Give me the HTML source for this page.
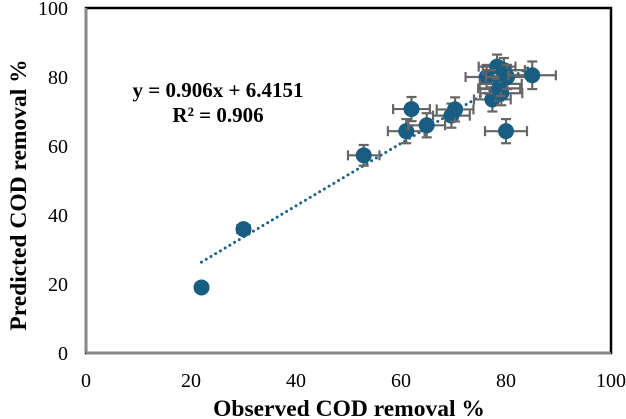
<!DOCTYPE html>
<html><head><meta charset="utf-8"><style>
body{margin:0;background:#fff}
svg{display:block;font-family:"Liberation Serif",serif}
</style></head><body>
<svg id="chart" width="626" height="419" viewBox="0 0 626 419">
<rect x="86" y="8" width="525" height="345" fill="#fff" stroke="#000" stroke-width="2.5"/>
<line x1="86" y1="8" x2="86" y2="353" stroke="#888" stroke-width="2.5"/>
<line x1="86" y1="353" x2="611" y2="353" stroke="#888" stroke-width="2.5"/>
<g id="ticks"></g>
<g id="trend"></g>
<g id="marks"></g>
<text x="218" y="97" font-size="21" font-weight="bold" text-anchor="middle">y = 0.906x + 6.4151</text>
<text x="218" y="122" font-size="21" font-weight="bold" text-anchor="middle">R² = 0.906</text>
<text x="349" y="416" font-size="23.5" font-weight="bold" text-anchor="middle">Observed COD removal %</text>
<text transform="translate(26,195) rotate(-90)" font-size="23.5" font-weight="bold" text-anchor="middle">Predicted COD removal %</text>
</svg>
<script>
const xTicks=[0,20,40,60,80,100];
const yTicks=[0,20,40,60,80,100];
const observed=[22.0,30.0,52.9,61.0,62.0,64.9,69.6,70.3,76.3,77.4,78.7,79.1,79.0,78.3,79.6,80.2,80.0,85.0];
const predicted=[19.0,35.9,57.3,64.3,70.7,66.0,68.8,70.6,80.0,73.5,76.7,75.3,78.0,83.0,82.0,80.0,64.3,80.5];
const xErr=[0.8,1.2,3,3.5,3.5,3.5,3.5,3.5,4,3.5,4,4,4,3.5,4,4,4,4.5];
const yErr=[0.8,1.2,3,3.5,3.5,3.5,3.5,3.5,3.5,3.5,3.5,3.5,3.5,3.5,3.5,3.5,3.5,4];
const slope=0.906, intercept=6.4151;
const NS='http://www.w3.org/2000/svg';
const X=v=>86+v*5.25, Y=v=>353-v*3.45;
function mk(tag,attrs,parent){const e=document.createElementNS(NS,tag);for(const k in attrs)e.setAttribute(k,attrs[k]);parent.appendChild(e);return e;}
const tk=document.getElementById('ticks');
xTicks.forEach(t=>{const e=mk('text',{x:X(t),y:387,'font-size':20,'text-anchor':'middle'},tk);e.textContent=t;

});
yTicks.forEach(t=>{const e=mk('text',{x:68,y:Y(t)+7,'font-size':20,'text-anchor':'end'},tk);e.textContent=t;

});
const tr=document.getElementById('trend');
const x0=Math.min(...observed), x1=Math.max(...observed);
const tl=mk('line',{x1:X(x0),y1:Y(slope*x0+intercept),x2:X(x1),y2:Y(slope*x1+intercept),stroke:'#1a6387','stroke-width':3,'stroke-dasharray':'0 5.5','stroke-linecap':'round'},tr);


const mg=document.getElementById('marks');
observed.forEach((o,i)=>{
 const p=predicted[i],cx=X(o),cy=Y(p);
 const g=mk('g',{},mg);
 
 
 const st={stroke:'#666','stroke-width':2.2};
 const xl=X(o-xErr[i]),xr=X(o+xErr[i]),yt=Y(p+yErr[i]),yb=Y(p-yErr[i]);
 mk('line',Object.assign({x1:xl,y1:cy,x2:xr,y2:cy},st),g);
 mk('line',Object.assign({x1:xl,y1:cy-5,x2:xl,y2:cy+5},st),g);
 mk('line',Object.assign({x1:xr,y1:cy-5,x2:xr,y2:cy+5},st),g);
 mk('line',Object.assign({x1:cx,y1:yt,x2:cx,y2:yb},st),g);
 mk('line',Object.assign({x1:cx-5,y1:yt,x2:cx+5,y2:yt},st),g);
 mk('line',Object.assign({x1:cx-5,y1:yb,x2:cx+5,y2:yb},st),g);
 mk('circle',{cx:cx,cy:cy,r:8,fill:'#195e82'},g);
});
</script>
</body></html>
